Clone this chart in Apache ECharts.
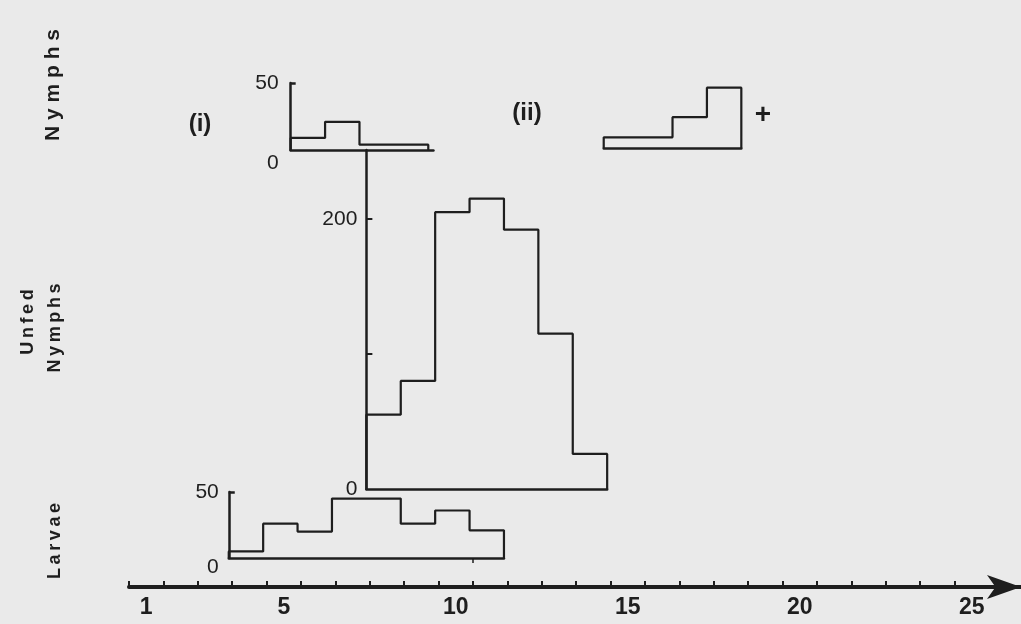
<!DOCTYPE html>
<html>
<head>
<meta charset="utf-8">
<script src="https://cdn.jsdelivr.net/npm/echarts@6.0.0/dist/echarts.min.js"></script>
<style>
  html, body { margin: 0; padding: 0; background: #eaeaea; }
  #chart { width: 1021px; height: 624px; }
</style>
</head>
<body>
<div id="chart"></div>
<script>
// ---- data ----
const dayLabelDays = [1, 5, 10, 15, 20, 25];          // labelled days on the main axis
const dayTicks = [0,1,2,3,4,5,6,7,8,9,10,11,12,13,14,15,16,17,18,19,20,21,22,23,24];

const larvaeStart = 2.9;
const larvae = [5, 26, 20, 45, 45, 26, 36, 21];

const unfedStart = 6.9;
const unfedNymphs = [55, 80, 205, 215, 192, 115, 26];

const nymphsIStart = 4.7;
const nymphsI = [9, 21, 4, 4];

const nymphsIIStart = 13.8;
const nymphsII = [8, 8, 23, 45];

// ---- layout ----
const UNIT = 34.4, X0 = 129;
const INK = '#1e1e1e';
const FONT = 'Liberation Sans';
const MAIN_W = 892;

function stepPath(start, vals) {
  const pts = [[start, 0]];
  vals.forEach((v, i) => { pts.push([start + i, v]); pts.push([start + i + 1, v]); });
  pts.push([start + vals.length, 0]);
  return pts;
}
function gridFor(start, span, top, height) {
  return { left: X0 + start * UNIT, width: span * UNIT, top: top, height: height, containLabel: false };
}
const hiddenY = (i) => ({ type: 'value', gridIndex: i, min: 0, max: 50, show: false });

const zeroRich = (pad) => ({
  z: { padding: [pad, 0, 0, 0], fontSize: 21, fontFamily: FONT, color: INK },
  n: { fontSize: 21, fontFamily: FONT, color: INK }
});

const vText = (txt, x, y, size) => ({
  type: 'text', x: x, y: y, rotation: Math.PI / 2,
  style: { text: txt, fontSize: size, fontWeight: 'bold', fontFamily: FONT, fill: INK,
           align: 'center', verticalAlign: 'middle' }
});
const T = '\u2009';

const option = {
  backgroundColor: '#eaeaea',
  animation: false,
  grid: [
    { left: X0, width: MAIN_W, top: 540, height: 47 },                    // main day axis
    gridFor(larvaeStart, larvae.length, 492, 66),                         // larvae
    gridFor(unfedStart, unfedNymphs.length, 150, 339),                    // unfed nymphs
    gridFor(nymphsIStart, nymphsI.length + 0.15, 83, 67),                 // nymphs (i)
    gridFor(nymphsIIStart, nymphsII.length, 81, 67)                       // nymphs (ii)
  ],
  xAxis: [
    {
      type: 'value', gridIndex: 0, min: 0, max: MAIN_W / UNIT,
      axisLine: { show: true, symbol: ['none', 'arrow'], symbolSize: [18, 34],
                  lineStyle: { color: INK, width: 4 } },
      axisTick: { show: true, inside: true, length: 6, customValues: dayTicks,
                  lineStyle: { color: INK, width: 2 } },
      axisLabel: { show: true, customValues: dayLabelDays.map(d => d - 0.5),
                   formatter: v => String(Math.round(v + 0.5)),
                   margin: 9, fontSize: 23, fontWeight: 'bold', fontFamily: FONT, color: INK },
      splitLine: { show: false }
    },
    {
      type: 'value', gridIndex: 1, min: larvaeStart, max: larvaeStart + larvae.length,
      axisLine: { show: true, lineStyle: { color: INK, width: 2.5 } },
      axisTick: { show: true, customValues: [10], length: 5, lineStyle: { color: INK, width: 1.5 } },
      axisLabel: { show: false }, splitLine: { show: false }
    },
    {
      type: 'value', gridIndex: 2, min: unfedStart, max: unfedStart + unfedNymphs.length,
      axisLine: { show: true, lineStyle: { color: INK, width: 2.5 } },
      axisTick: { show: false }, axisLabel: { show: false }, splitLine: { show: false }
    },
    {
      type: 'value', gridIndex: 3, min: nymphsIStart, max: nymphsIStart + nymphsI.length + 0.15,
      axisLine: { show: true, lineStyle: { color: INK, width: 2.5 } },
      axisTick: { show: false }, axisLabel: { show: false }, splitLine: { show: false }
    },
    {
      type: 'value', gridIndex: 4, min: nymphsIIStart, max: nymphsIIStart + nymphsII.length,
      axisLine: { show: true, lineStyle: { color: INK, width: 2.5 } },
      axisTick: { show: false }, axisLabel: { show: false }, splitLine: { show: false }
    }
  ],
  yAxis: [
    { type: 'value', gridIndex: 0, show: false, min: 0, max: 1 },
    {
      type: 'value', gridIndex: 1, min: 0, max: 50,
      axisLine: { show: true, lineStyle: { color: INK, width: 2.5 } },
      axisTick: { show: true, inside: true, length: 6, customValues: [50], lineStyle: { color: INK, width: 2.5 } },
      axisLabel: { show: true, customValues: [0, 50], margin: 10,
                   formatter: v => v === 0 ? '{z|0}' : '{n|' + v + '}', rich: zeroRich(18) },
      splitLine: { show: false }
    },
    {
      type: 'value', gridIndex: 2, min: 0, max: 251,
      axisLine: { show: true, lineStyle: { color: INK, width: 2.5 } },
      axisTick: { show: true, inside: true, length: 6, customValues: [100, 200], lineStyle: { color: INK, width: 2 } },
      axisLabel: { show: true, customValues: [0, 200], margin: 9,
                   formatter: v => '{n|' + v + '}', rich: zeroRich(0) },
      splitLine: { show: false }
    },
    {
      type: 'value', gridIndex: 3, min: 0, max: 50,
      axisLine: { show: true, lineStyle: { color: INK, width: 2.5 } },
      axisTick: { show: true, inside: true, length: 5, customValues: [50], lineStyle: { color: INK, width: 2.5 } },
      axisLabel: { show: true, customValues: [0, 50], margin: 12,
                   formatter: v => v === 0 ? '{z|0}' : '{n|' + v + '}', rich: zeroRich(26) },
      splitLine: { show: false }
    },
    hiddenY(4)
  ],
  series: [
    { type: 'line', xAxisIndex: 1, yAxisIndex: 1, data: stepPath(larvaeStart, larvae) },
    { type: 'line', xAxisIndex: 2, yAxisIndex: 2, data: stepPath(unfedStart, unfedNymphs) },
    { type: 'line', xAxisIndex: 3, yAxisIndex: 3, data: stepPath(nymphsIStart, nymphsI) },
    { type: 'line', xAxisIndex: 4, yAxisIndex: 4, data: stepPath(nymphsIIStart, nymphsII) }
  ].map(s => Object.assign(s, {
    showSymbol: false, silent: true, clip: false,
    lineStyle: { color: INK, width: 2.2 }
  })),
  graphic: [
    vText(['N','y','m','p','h','s'].join(' '), 53, 85, 21),
    vText(['U','n','f','e','d'].join(T), 28, 322, 18),
    vText(['N','y','m','p','h','s'].join(T), 55, 328, 18),
    vText(['L','a','r','v','a','e'].join(T), 55, 541, 18),
    { type: 'text', x: 200, y: 124,
      style: { text: '(i)', fontSize: 24, fontWeight: 'bold', fontFamily: FONT, fill: INK, align: 'center', verticalAlign: 'middle' } },
    { type: 'text', x: 527, y: 113,
      style: { text: '(ii)', fontSize: 24, fontWeight: 'bold', fontFamily: FONT, fill: INK, align: 'center', verticalAlign: 'middle' } },
    { type: 'text', x: 763, y: 115,
      style: { text: '+', fontSize: 28, fontWeight: 'bold', fontFamily: FONT, fill: INK, align: 'center', verticalAlign: 'middle' } }
  ]
};

const chart = echarts.init(document.getElementById('chart'), null, { renderer: 'canvas' });
chart.setOption(option);
</script>
</body>
</html>
